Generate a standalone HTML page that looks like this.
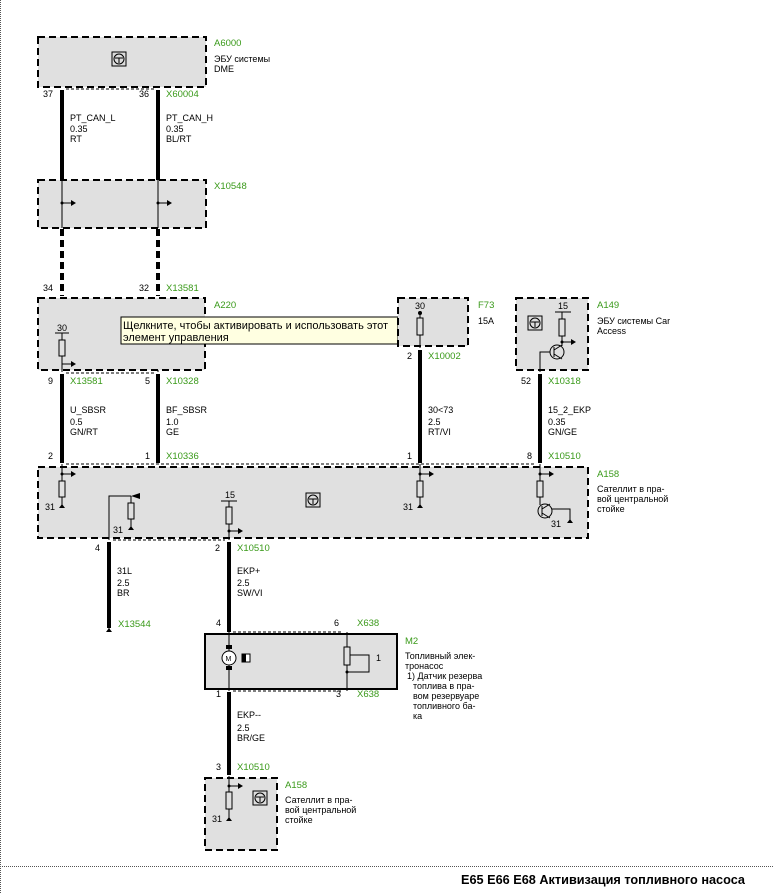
<!DOCTYPE html>
<html><head><meta charset="utf-8"><style>
html,body{margin:0;padding:0;background:#fff;}
svg{display:block;font-family:"Liberation Sans","Noto Sans CJK SC",sans-serif;}
.t{font-size:9px;fill:#000}
.g{font-size:9.5px;fill:#3a9a1a}
.box{fill:#e0e0e0;stroke:#000;stroke-width:2;stroke-dasharray:7,4}
.w{stroke:#000;stroke-width:4}
.thin{stroke:#000;stroke-width:1;fill:none}
.pd{stroke:#000;stroke-width:1;stroke-dasharray:3,2;fill:none}
.res{fill:#e0e0e0;stroke:#000;stroke-width:1}
</style></head><body>
<svg width="773" height="894" viewBox="0 0 773 894" xmlns="http://www.w3.org/2000/svg">
<defs>
<g id="ico"><rect x="-7" y="-7" width="14" height="14" fill="#ddd" stroke="#000" stroke-width="1"/><circle r="5" fill="none" stroke="#000" stroke-width="1"/><path d="M-4,-1 L4,-1 M0,-1 L0,4" stroke="#000" stroke-width="1"/></g>
<g id="arr"><path d="M0,0 L12,0" stroke="#000" stroke-width="1"/><path d="M9,-3 L14,0 L9,3Z" fill="#000"/></g>
<g id="gnd"><path d="M0,0 L0,5" stroke="#000"/><path d="M-3,5 L3,5 L0,1Z" fill="#000"/></g>
</defs>
<line x1="0.5" y1="0" x2="0.5" y2="894" stroke="#555" stroke-dasharray="1,1"/>
<line x1="0" y1="866.5" x2="773" y2="866.5" stroke="#555" stroke-dasharray="1,1"/>

<!-- A6000 -->
<rect class="box" x="38" y="37" width="168" height="50"/>
<use href="#ico" x="119" y="59"/>
<text class="g" x="214" y="46">A6000</text>
<text class="t" x="214" y="62">ЭБУ системы</text>
<text class="t" x="214" y="72">DME</text>
<line class="pd" x1="66" y1="89" x2="154" y2="89"/>
<line class="w" x1="62" y1="90" x2="62" y2="180"/>
<line class="w" x1="158" y1="90" x2="158" y2="180"/>
<text class="t" x="43" y="97">37</text><text class="t" x="139" y="97">36</text><text class="g" x="166" y="97">X60004</text>
<text class="t" x="70" y="121">PT_CAN_L</text><text class="t" x="70" y="132">0.35</text><text class="t" x="70" y="142">RT</text>
<text class="t" x="166" y="121">PT_CAN_H</text><text class="t" x="166" y="132">0.35</text><text class="t" x="166" y="142">BL/RT</text>

<!-- X10548 -->
<rect class="box" x="38" y="180" width="168" height="48"/>
<text class="g" x="214" y="189">X10548</text>
<line class="thin" x1="62" y1="180" x2="62" y2="228"/><line class="thin" x1="158" y1="180" x2="158" y2="228"/>
<use href="#arr" x="62" y="203"/><use href="#arr" x="158" y="203"/>
<circle cx="62" cy="203" r="1.5"/><circle cx="158" cy="203" r="1.5"/>
<line x1="62" y1="229" x2="62" y2="296" stroke="#000" stroke-width="4" stroke-dasharray="7,4"/>
<line x1="158" y1="229" x2="158" y2="296" stroke="#000" stroke-width="4" stroke-dasharray="7,4"/>
<text class="t" x="43" y="291">34</text><text class="t" x="139" y="291">32</text><text class="g" x="166" y="291">X13581</text>

<!-- A220 -->
<rect class="box" x="38" y="298" width="167" height="72"/>
<text class="g" x="214" y="308">A220</text>
<line class="thin" x1="55" y1="333" x2="69" y2="333"/><text class="t" x="57" y="331">30</text>
<line class="thin" x1="62" y1="333" x2="62" y2="372"/>
<rect class="res" x="59" y="340" width="6" height="16"/>
<use href="#arr" x="62" y="364"/>
<line class="thin" x1="158" y1="370" x2="158" y2="372"/>
<rect x="121" y="317" width="277" height="27" fill="#ffffe1" stroke="#000" stroke-width="1"/>
<text x="123" y="329" font-size="11" fill="#000">Щелкните, чтобы активировать и использовать этот</text>
<text x="123" y="341" font-size="11" fill="#000">элемент управления</text>
<line class="pd" x1="66" y1="373" x2="154" y2="373"/>
<line class="w" x1="62" y1="374" x2="62" y2="463"/>
<line class="w" x1="158" y1="374" x2="158" y2="463"/>
<text class="t" x="48" y="384">9</text><text class="g" x="70" y="384">X13581</text>
<text class="t" x="145" y="384">5</text><text class="g" x="166" y="384">X10328</text>
<text class="t" x="70" y="413">U_SBSR</text><text class="t" x="70" y="425">0.5</text><text class="t" x="70" y="435">GN/RT</text>
<text class="t" x="166" y="413">BF_SBSR</text><text class="t" x="166" y="425">1.0</text><text class="t" x="166" y="435">GE</text>
<text class="t" x="48" y="459">2</text><text class="t" x="145" y="459">1</text><text class="g" x="166" y="459">X10336</text>

<!-- F73 -->
<rect class="box" x="398" y="298" width="70" height="48"/>
<text class="g" x="478" y="308">F73</text><text class="t" x="478" y="324">15A</text>
<text class="t" x="415" y="309">30</text><circle cx="420" cy="313" r="2"/>
<line class="thin" x1="420" y1="313" x2="420" y2="348"/>
<rect class="res" x="417" y="318" width="6" height="17"/>
<line class="w" x1="420" y1="350" x2="420" y2="463"/>
<text class="t" x="407" y="359">2</text><text class="g" x="428" y="359">X10002</text>
<text class="t" x="428" y="413">30&lt;73</text><text class="t" x="428" y="425">2.5</text><text class="t" x="428" y="435">RT/VI</text>
<text class="t" x="407" y="459">1</text>

<!-- A149 -->
<rect class="box" x="516" y="298" width="72" height="72"/>
<text class="g" x="597" y="308">A149</text>
<text class="t" x="597" y="324">ЭБУ системы Car</text><text class="t" x="597" y="334">Access</text>
<use href="#ico" x="535" y="323"/>
<text class="t" x="558" y="309">15</text><line class="thin" x1="555" y1="312" x2="571" y2="312"/>
<line class="thin" x1="562" y1="312" x2="562" y2="346"/>
<rect class="res" x="559" y="319" width="6" height="17"/>
<use href="#arr" x="562" y="342"/><circle cx="562" cy="342" r="1.5"/>
<circle cx="557" cy="352" r="7" fill="none" stroke="#000"/>
<path class="thin" d="M554,347 L554,357 M554,350 L562,345 M554,354 L562,359"/>
<path class="thin" d="M550,352 L540,352 L540,372"/>
<line class="w" x1="540" y1="374" x2="540" y2="463"/>
<text class="t" x="521" y="384">52</text><text class="g" x="548" y="384">X10318</text>
<text class="t" x="548" y="413">15_2_EKP</text><text class="t" x="548" y="425">0.35</text><text class="t" x="548" y="435">GN/GE</text>
<text class="t" x="527" y="459">8</text><text class="g" x="548" y="459">X10510</text>

<!-- A158 main -->
<line class="pd" x1="66" y1="464" x2="536" y2="464"/>
<rect class="box" x="38" y="467" width="550" height="71"/>
<text class="g" x="597" y="477">A158</text>
<text class="t" x="597" y="492">Сателлит в пра-</text><text class="t" x="597" y="502">вой центральной</text><text class="t" x="597" y="512">стойке</text>
<line class="thin" x1="62" y1="464" x2="62" y2="505"/><use href="#arr" x="62" y="474"/><circle cx="62" cy="474" r="1.5"/>
<rect class="res" x="59" y="481" width="6" height="16"/><use href="#gnd" x="62" y="503"/><text class="t" x="45" y="510">31</text>
<path class="thin" d="M109,540 L109,496 L131,496"/><path d="M140,493 L131,496 L140,499Z"/>
<line class="thin" x1="131" y1="496" x2="131" y2="527"/><rect class="res" x="128" y="503" width="6" height="16"/><use href="#gnd" x="131" y="525"/><text class="t" x="113" y="533">31</text>
<text class="t" x="225" y="498">15</text><line class="thin" x1="221" y1="501" x2="237" y2="501"/>
<line class="thin" x1="229" y1="501" x2="229" y2="540"/><rect class="res" x="226" y="507" width="6" height="17"/>
<use href="#arr" x="229" y="531"/><circle cx="229" cy="531" r="1.5"/>
<use href="#ico" x="313" y="500"/>
<line class="thin" x1="420" y1="464" x2="420" y2="505"/><use href="#arr" x="420" y="474"/><circle cx="420" cy="474" r="1.5"/>
<rect class="res" x="417" y="481" width="6" height="16"/><use href="#gnd" x="420" y="503"/><text class="t" x="403" y="510">31</text>
<line class="thin" x1="540" y1="464" x2="540" y2="505"/><use href="#arr" x="540" y="474"/><circle cx="540" cy="474" r="1.5"/>
<rect class="res" x="537" y="481" width="6" height="16"/>
<circle cx="545" cy="511" r="7" fill="none" stroke="#000"/>
<path class="thin" d="M542,506 L542,516 M542,509 L550,504 M542,513 L550,518"/>
<path class="thin" d="M552,509 L570,509 L570,520"/><use href="#gnd" x="570" y="518"/><text class="t" x="551" y="527">31</text>

<!-- lower wires -->
<line class="pd" x1="113" y1="540" x2="225" y2="540"/>
<line class="w" x1="109" y1="542" x2="109" y2="628"/><use href="#gnd" x="109" y="627"/>
<line class="w" x1="229" y1="542" x2="229" y2="632"/>
<text class="t" x="95" y="551">4</text><text class="t" x="215" y="551">2</text><text class="g" x="237" y="551">X10510</text>
<text class="t" x="117" y="574">31L</text><text class="t" x="117" y="586">2.5</text><text class="t" x="117" y="596">BR</text>
<text class="t" x="237" y="574">EKP+</text><text class="t" x="237" y="586">2.5</text><text class="t" x="237" y="596">SW/VI</text>
<text class="g" x="118" y="627">X13544</text>

<!-- M2 -->
<text class="t" x="216" y="626">4</text><text class="t" x="334" y="626">6</text><text class="g" x="357" y="626">X638</text>
<line class="pd" x1="233" y1="632" x2="343" y2="632"/>
<rect x="205" y="634" width="192" height="55" fill="#e0e0e0" stroke="#000" stroke-width="2"/>
<text class="g" x="405" y="644">M2</text>
<text class="t" x="405" y="659">Топливный элек-</text><text class="t" x="405" y="669">тронасос</text>
<text class="t" x="407" y="679">1) Датчик резерва</text><text class="t" x="413" y="689">топлива в пра-</text>
<text class="t" x="413" y="699">вом резервуаре</text><text class="t" x="413" y="709">топливного ба-</text><text class="t" x="413" y="719">ка</text>
<line class="thin" x1="229" y1="632" x2="229" y2="691"/>
<rect x="226" y="645" width="6" height="4"/><rect x="226" y="666" width="6" height="4"/>
<circle cx="229" cy="658" r="7" fill="#fff" stroke="#000"/><text x="225.5" y="661" font-size="7">M</text>
<rect x="242" y="654" width="8" height="8" fill="#fff" stroke="#000"/><rect x="242" y="654" width="4" height="8"/>
<line class="thin" x1="347" y1="632" x2="347" y2="691"/>
<rect class="res" x="344" y="647" width="6" height="18"/>
<path class="thin" d="M350,655 L369,655 L369,672 L347,672"/><circle cx="347" cy="672" r="1.5"/>
<text class="t" x="376" y="661">1</text>
<line class="pd" x1="233" y1="691" x2="343" y2="691"/>
<text class="t" x="216" y="697">1</text><text class="t" x="336" y="697">3</text><text class="g" x="357" y="697">X638</text>
<line class="w" x1="229" y1="692" x2="229" y2="775"/>
<text class="t" x="237" y="718">EKP--</text><text class="t" x="237" y="731">2.5</text><text class="t" x="237" y="741">BR/GE</text>
<text class="t" x="216" y="770">3</text><text class="g" x="237" y="770">X10510</text>

<!-- A158 bottom -->
<rect class="box" x="205" y="778" width="72" height="72"/>
<text class="g" x="285" y="788">A158</text>
<text class="t" x="285" y="803">Сателлит в пра-</text><text class="t" x="285" y="813">вой центральной</text><text class="t" x="285" y="823">стойке</text>
<line class="thin" x1="229" y1="776" x2="229" y2="818"/><use href="#arr" x="229" y="786"/><circle cx="229" cy="786" r="1.5"/>
<rect class="res" x="226" y="792" width="6" height="17"/><use href="#gnd" x="229" y="816"/><text class="t" x="212" y="822">31</text>
<use href="#ico" x="260" y="798"/>

<text x="745" y="884" text-anchor="end" font-size="13" font-weight="bold" fill="#000" textLength="284" lengthAdjust="spacingAndGlyphs">E65 E66 E68 Активизация топливного насоса</text>
</svg>
</body></html>
